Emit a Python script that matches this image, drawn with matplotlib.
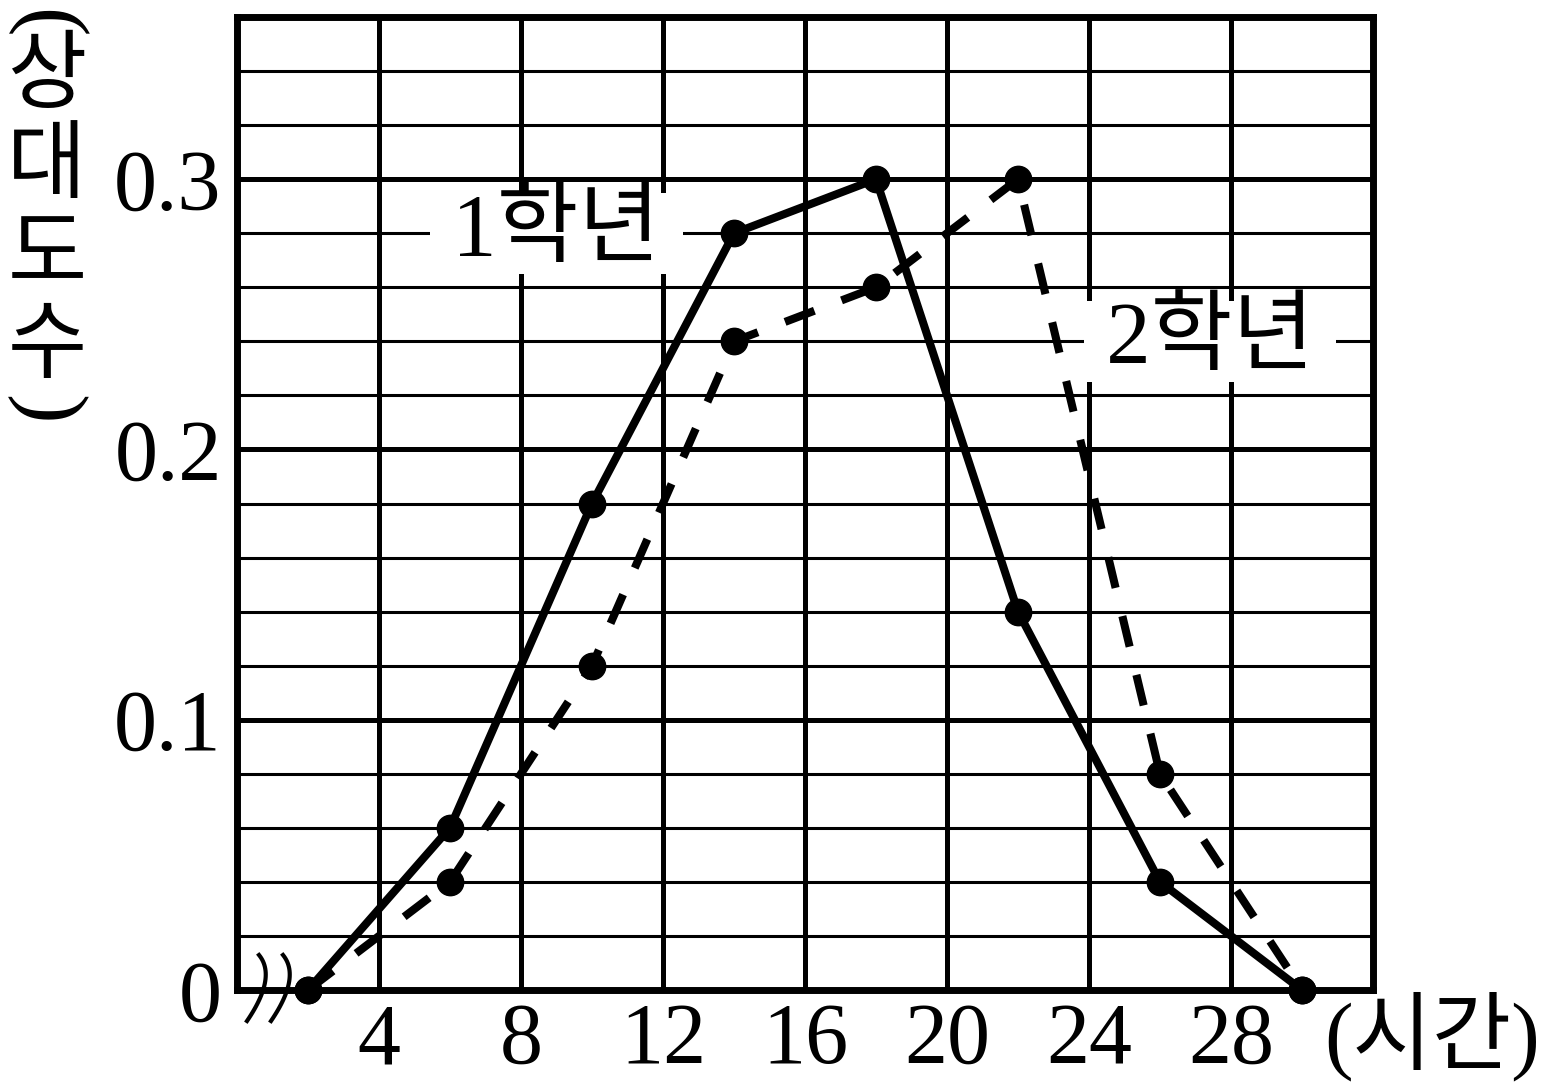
import matplotlib.pyplot as plt
import numpy as np
from matplotlib.lines import Line2D

# Data
hours = [2, 6, 10, 14, 18, 22, 26, 30]
grade1 = [0, 0.06, 0.18, 0.28, 0.30, 0.14, 0.04, 0]
grade2 = [0, 0.04, 0.12, 0.24, 0.26, 0.30, 0.08, 0]

x_ticks = [4, 8, 12, 16, 20, 24, 28]
y_ticks = [0, 0.1, 0.2, 0.3]
y_tick_labels = ['0', '0.1', '0.2', '0.3']
y_minor = np.arange(0, 0.361, 0.02)

serif = ['Liberation Serif', 'Noto Sans CJK KR']
W, H = 1559, 1092

fig = plt.figure(figsize=(W / 100, H / 100), dpi=100)
ax = fig.add_axes([237 / W, 1 - 990 / H, (1373 - 237) / W, (990 - 17) / H])

ax.set_xlim(0, 32)
ax.set_ylim(0, 0.36)

# Grid
ax.set_xticks(x_ticks)
ax.set_xticklabels([str(t) for t in x_ticks], family=serif, fontsize=62)
ax.set_yticks(y_ticks)
ax.set_yticklabels(y_tick_labels, family=serif, fontsize=62)
ax.set_yticks(y_minor, minor=True)
ax.tick_params(which='both', length=0)
ax.tick_params(axis='x', pad=9)
ax.tick_params(axis='y', pad=11)
ax.set_axisbelow(True)
ax.grid(which='major', color='black', lw=3.6)
ax.grid(which='minor', axis='y', color='black', lw=2.2)
for s in ax.spines.values():
    s.set_linewidth(5)
    s.set_zorder(5)

# Frequency polygons
ax.plot(hours, grade1, color='black', lw=5.8, marker='o', markersize=19,
        solid_capstyle='butt', clip_on=False, zorder=4)
ax.plot(hours, grade2, color='black', lw=5.8, marker='o', markersize=19,
        dashes=(3.9, 3.6), dash_capstyle='butt', clip_on=False, zorder=4)

# Line labels
box = dict(facecolor='white', edgecolor='none', boxstyle='square,pad=0.0')
ax.text(9.0, 0.28, ' 1학년 ', family=serif, fontsize=64, ha='center', va='center',
        bbox=box, zorder=3)
ax.text(27.4, 0.24, ' 2학년 ', family=serif, fontsize=64, ha='center', va='center',
        bbox=box, zorder=3)

# Axis titles (stacked vertically, parentheses turned sideways)
fig.text(45 / W, 1 - 24 / H, '(', family=serif, fontsize=64, rotation=-90,
         ha='center', va='center')
for i, ch in enumerate('상대도수'):
    fig.text(47 / W, 1 - (80 + i * 90) / H, ch, family=serif, fontsize=62,
             ha='center', va='center')
fig.text(45 / W, 1 - 410 / H, ')', family=serif, fontsize=64, rotation=-90,
         ha='center', va='center')
fig.text(1432 / W, 1 - 1037 / H, '(시간)', family=serif, fontsize=62,
         ha='center', va='center')

# Axis break mark near the origin
t = np.linspace(0, 1, 30)
for dx in (0, 24):
    p0 = np.array([259 + dx, 955])
    c = np.array([277 + dx, 977])
    p2 = np.array([247 + dx, 1021])
    pts = ((1 - t) ** 2)[:, None] * p0 + (2 * t * (1 - t))[:, None] * c + (t ** 2)[:, None] * p2
    fig.add_artist(Line2D(pts[:, 0] / W, 1 - pts[:, 1] / H, color='black', lw=3,
                          transform=fig.transFigure))

plt.savefig('out.png', dpi=100)
